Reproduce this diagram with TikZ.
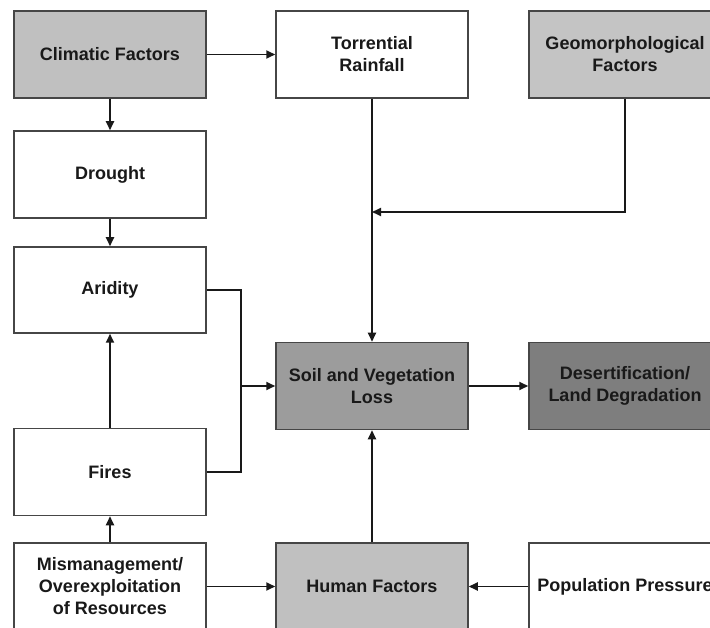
\documentclass[tikz,border=0pt]{standalone}
\usepackage{fontspec}
\setmainfont{Liberation Sans}
\usetikzlibrary{arrows.meta}
\definecolor{lightbox}{RGB}{192,192,192}
\definecolor{geobox}{RGB}{196,196,196}
\definecolor{midbox}{RGB}{156,156,156}
\definecolor{darkbox}{RGB}{126,126,126}
\definecolor{edgecol}{RGB}{70,70,70}
\tikzset{
  box/.style={draw=edgecol, line width=1.5pt, rectangle, minimum width=192pt, minimum height=87pt,
    align=center, inner sep=2pt, font=\fontsize{18}{22}\selectfont\bfseries, text=black!90},
  conn/.style={line width=1.8pt, black!90},
  arr/.style={conn, -{Triangle[length=9pt,width=8pt]}}
}
\begin{document}
\begin{tikzpicture}[x=1pt,y=-1pt]
\useasboundingbox (0,0) rectangle (710,628);
\fill[white] (0,0) rectangle (710,628);
\node[box, fill=lightbox] (clim) at (110,54.5) {Climatic Factors};
\node[box, fill=white] (torr) at (372,54.5) {Torrential\\Rainfall};
\node[box, fill=geobox] (geo) at (625,54.5) {Geomorphological\\Factors};
\node[box, fill=white] (drou) at (110,174.5) {Drought};
\node[box, fill=white, minimum height=86pt] (arid) at (110,290) {Aridity};
\node[box, fill=midbox] (soil) at (372,386) {Soil and Vegetation\\Loss};
\node[box, fill=darkbox] (dese) at (625,386) {Desertification/\\Land Degradation};
\node[box, fill=white] (fire) at (110,472) {Fires};
\node[box, fill=white] (mism) at (110,586.5) {Mismanagement/\\Overexploitation\\of Resources};
\node[box, fill=lightbox] (huma) at (372,586.5) {Human Factors};
\node[box, fill=white] (popu) at (625,586.5) {Population Pressure};
\coordinate (g) at (372,212);
\coordinate (j) at (241,386);
\draw[arr] (clim) -- (torr);
\draw[arr] (clim) -- (drou);
\draw[arr] (drou) -- (arid);
\draw[arr] (torr) -- (soil);
\draw[arr] (geo.south) |- (g);
\draw[conn] (arid.east) -| (j) |- (fire.east);
\draw[arr] (j) -- (soil.west);
\draw[arr] (fire) -- (arid);
\draw[arr] (mism) -- (fire);
\draw[arr] (soil) -- (dese);
\draw[arr] (huma) -- (soil);
\draw[arr] (mism) -- (huma);
\draw[arr] (popu) -- (huma);
\end{tikzpicture}
\end{document}
